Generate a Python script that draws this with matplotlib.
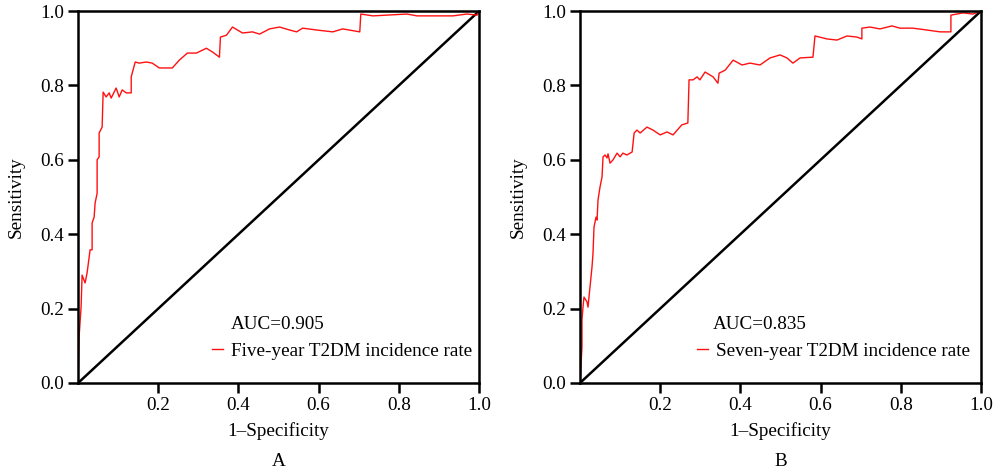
import matplotlib
matplotlib.use("Agg")
import matplotlib.pyplot as plt

plt.rcParams['font.family'] = ['Liberation Serif', 'DejaVu Serif']

# ROC points: (1-specificity, sensitivity)
fpr_5y = [0.0, 0.0, 0.0025, 0.0075, 0.01, 0.0175, 0.0225, 0.03, 0.035, 0.035, 0.04,
          0.0425, 0.0475, 0.0475, 0.0525, 0.0525, 0.06, 0.0625, 0.07, 0.0775, 0.0825,
          0.095, 0.1025, 0.11, 0.12, 0.1325, 0.1325, 0.1425, 0.1525, 0.17, 0.185,
          0.2025, 0.235, 0.2525, 0.2725, 0.295, 0.32, 0.335, 0.3525, 0.355, 0.37,
          0.385, 0.41, 0.435, 0.4525, 0.4775, 0.5025, 0.5275, 0.545, 0.56, 0.595,
          0.635, 0.66, 0.7025, 0.705, 0.735, 0.77, 0.82, 0.845, 0.885, 0.935, 0.97,
          0.995, 1.0]
tpr_5y = [0.0, 0.008, 0.124, 0.204, 0.29, 0.269, 0.296, 0.358, 0.358, 0.43, 0.446,
          0.484, 0.51, 0.6, 0.608, 0.672, 0.688, 0.782, 0.769, 0.78, 0.766,
          0.793, 0.769, 0.788, 0.78, 0.78, 0.823, 0.863, 0.86, 0.863, 0.86,
          0.847, 0.847, 0.868, 0.887, 0.887, 0.90, 0.89, 0.876, 0.93, 0.935,
          0.957, 0.941, 0.944, 0.938, 0.952, 0.957, 0.949, 0.944, 0.954, 0.949,
          0.944, 0.952, 0.944, 0.992, 0.987, 0.989, 0.992, 0.987, 0.987, 0.987, 0.992,
          0.989, 1.0]

fpr_7y = [0.0, 0.005, 0.005, 0.0075, 0.01, 0.0175, 0.02, 0.025, 0.03, 0.0325, 0.035,
          0.04, 0.0425, 0.045, 0.05, 0.055, 0.0575, 0.0625, 0.0675, 0.07, 0.075,
          0.0825, 0.0925, 0.1, 0.107, 0.117, 0.13, 0.135, 0.142, 0.15, 0.167,
          0.182, 0.2, 0.217, 0.232, 0.254, 0.269, 0.272, 0.282, 0.292, 0.299,
          0.312, 0.332, 0.344, 0.347, 0.362, 0.382, 0.404, 0.424, 0.449, 0.474,
          0.499, 0.516, 0.531, 0.549, 0.581, 0.586, 0.616, 0.641, 0.666, 0.691,
          0.703, 0.703, 0.723, 0.748, 0.778, 0.798, 0.830, 0.865, 0.898, 0.925,
          0.925, 0.955, 0.980, 1.0]
tpr_7y = [0.0, 0.097, 0.169, 0.204, 0.231, 0.218, 0.204, 0.258, 0.312, 0.349, 0.419,
          0.446, 0.438, 0.492, 0.527, 0.554, 0.608, 0.613, 0.605, 0.616, 0.591,
          0.6, 0.618, 0.608, 0.618, 0.613, 0.621, 0.672, 0.68, 0.672, 0.688,
          0.68, 0.667, 0.675, 0.667, 0.694, 0.699, 0.815, 0.815, 0.823, 0.815,
          0.836, 0.823, 0.806, 0.833, 0.841, 0.868, 0.855, 0.86, 0.855, 0.874,
          0.882, 0.874, 0.86, 0.874, 0.876, 0.933, 0.925, 0.922, 0.933, 0.930,
          0.925, 0.954, 0.957, 0.952, 0.96, 0.954, 0.954, 0.949, 0.944, 0.944,
          0.989, 0.995, 0.992, 1.0]

panels = [
    (fpr_5y, tpr_5y, 'AUC=0.905', 'Five-year T2DM incidence rate', 'A', 0.382, 0.334),
    (fpr_7y, tpr_7y, 'AUC=0.835', 'Seven-year T2DM incidence rate', 'B', 0.332, 0.292),
]
x_ticks = [0.2, 0.4, 0.6, 0.8, 1.0]
y_ticks = [0.0, 0.2, 0.4, 0.6, 0.8, 1.0]

fig = plt.figure(figsize=(10.01, 4.72), dpi=100)
lefts = [0.078, 0.5794]
fs = 13.75

for left, (fpr, tpr, auc_txt, label, letter, auc_x, leg_x) in zip(lefts, panels):
    ax = fig.add_axes([left, 0.1886, 0.4006, 0.788])
    ax.plot([0, 1], [0, 1], color='black', lw=1.8)
    ax.plot(fpr, tpr, color='#ff1010', lw=1.0, label=label)
    ax.set_xlim(0, 1)
    ax.set_ylim(0, 1)
    ax.set_xticks(x_ticks)
    ax.set_xticklabels([f'{t:.1f}' for t in x_ticks])
    ax.set_yticks(y_ticks)
    ax.set_yticklabels([f'{t:.1f}' for t in y_ticks])
    ax.tick_params(direction='out', length=7.5, width=1.8, labelsize=fs, pad=2.5)
    for sp in ax.spines.values():
        sp.set_linewidth(1.8)
    ax.set_xlabel('1\u2013Specificity', fontsize=fs, labelpad=6)
    ax.set_ylabel('Sensitivity', fontsize=fs, labelpad=11)
    ax.text(auc_x, 0.158, auc_txt, transform=ax.transAxes, fontsize=fs,
            va='center', ha='left')
    ax.legend(loc='center left', bbox_to_anchor=(leg_x, 0.086), frameon=False,
              fontsize=fs, handlelength=0.55, handletextpad=0.45,
              borderaxespad=0, borderpad=0)
    ax.text(0.5, -0.21, letter, transform=ax.transAxes, fontsize=fs,
            ha='center', va='center')

fig.savefig('out.png', dpi=100)
